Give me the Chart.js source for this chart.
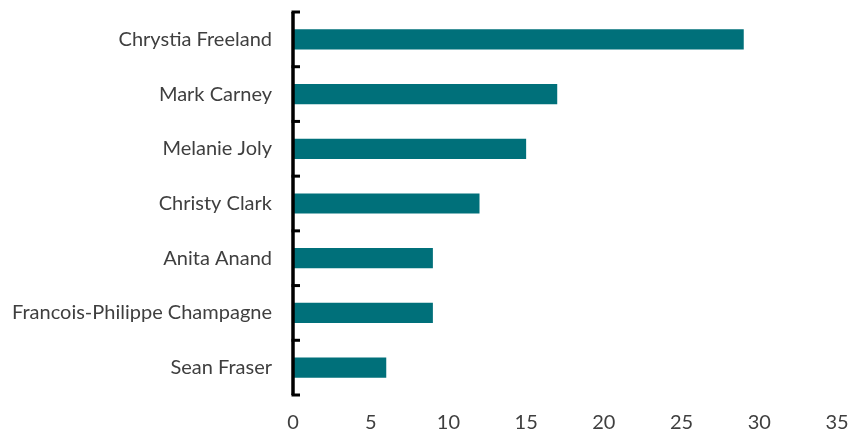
<!DOCTYPE html>
<html>
<head>
<meta charset="utf-8">
<script src="https://cdn.jsdelivr.net/npm/chart.js@4.4.1/dist/chart.umd.min.js"></script>
<style>
  html, body { margin: 0; padding: 0; background: #fff; }
  #wrap { width: 851px; height: 432px; position: relative; }
</style>
</head>
<body>
<div id="wrap"><canvas id="chart"></canvas></div>
<script>
/* data */
const names = [
  "Chrystia Freeland",
  "Mark Carney",
  "Melanie Joly",
  "Christy Clark",
  "Anita Anand",
  "Francois-Philippe Champagne",
  "Sean Fraser"
];
const values = [29, 17, 15, 12, 9, 9, 6];
const xTicks = [0, 5, 10, 15, 20, 25, 30, 35];

const BAR = "#00707a";
const TEXT = "#3f3f3f";
const FONT = "Lato, 'Open Sans', sans-serif";

/* black left axis with inward ticks at category boundaries */
const axisPlugin = {
  id: "axisLine",
  afterDraw(chart) {
    const { ctx, chartArea, scales } = chart;
    const y = scales.y;
    const n = names.length;
    const step = (y.getPixelForTick(n - 1) - y.getPixelForTick(0)) / (n - 1);
    const x0 = chartArea.left;
    ctx.save();
    ctx.strokeStyle = "#000";
    ctx.lineWidth = 3.5;
    ctx.beginPath();
    ctx.moveTo(x0, chartArea.top);
    ctx.lineTo(x0, chartArea.bottom);
    ctx.stroke();
    ctx.lineWidth = 3;
    for (let i = 0; i <= n; i++) {
      const py = y.getPixelForTick(0) - step / 2 + i * step;
      ctx.beginPath();
      ctx.moveTo(x0 - 1.5, py);
      ctx.lineTo(x0 + 7, py);
      ctx.stroke();
    }
    ctx.restore();
  }
};

new Chart(document.getElementById("chart"), {
  type: "bar",
  data: {
    labels: names,
    datasets: [{ data: values, backgroundColor: BAR, barPercentage: 0.37, categoryPercentage: 1 }]
  },
  options: {
    indexAxis: "y",
    responsive: true,
    maintainAspectRatio: false,
    animation: false,
    layout: { padding: { top: 12, right: 14, bottom: 0, left: 0 } },
    plugins: { legend: { display: false }, tooltip: { enabled: false } },
    scales: {
      x: {
        min: 0, max: 35,
        afterBuildTicks: (s) => { s.ticks = xTicks.map(v => ({ value: v })); },
        afterFit: (s) => { s.height = 37; s.paddingLeft = 0; s.paddingRight = 0; },
        grid: { display: false, drawTicks: false },
        border: { display: false },
        ticks: { color: TEXT, font: { family: FONT, size: 20 }, padding: 16 }
      },
      y: {
        afterFit: (s) => { s.width = 293; s.paddingTop = 0; s.paddingBottom = 0; },
        grid: { display: false, drawTicks: false },
        border: { display: false },
        ticks: { color: TEXT, font: { family: FONT, size: 20 }, padding: 21 }
      }
    }
  },
  plugins: [axisPlugin]
});
</script>
</body>
</html>
